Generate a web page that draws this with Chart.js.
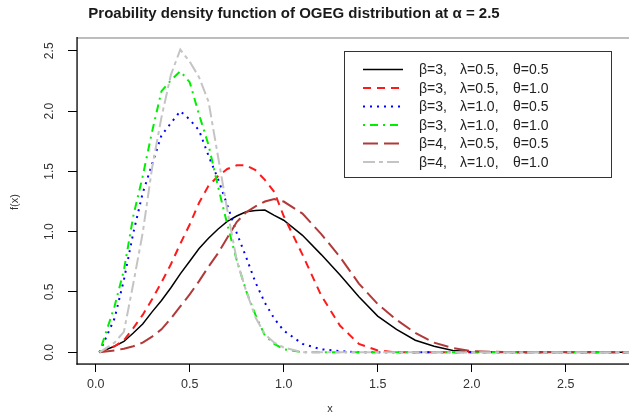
<!DOCTYPE html>
<html><head><meta charset="utf-8">
<script src="https://cdn.jsdelivr.net/npm/chart.js@4/dist/chart.umd.min.js"></script>
<style>html,body{margin:0;padding:0;background:#fff;}</style>
</head><body>
<canvas id="c" width="629" height="419"></canvas>
<script>
const titleText = "Proability density function of OGEG distribution at α = 2.5";
const xAxisLabel = "x";
const yAxisLabel = "f(x)";
const xTicks = [0, 0.5, 1, 1.5, 2, 2.5];
const xTickLabels = ["0.0", "0.5", "1.0", "1.5", "2.0", "2.5"];
const yTicks = [0, 0.5, 1, 1.5, 2, 2.5];
const yTickLabels = ["0.0", "0.5", "1.0", "1.5", "2.0", "2.5"];

const xs = [0.02,0.1,0.15,0.2,0.25,0.3,0.35,0.4,0.45,0.5,0.55,0.6,0.65,0.7,0.75,0.8,0.85,0.9,0.95,1.0,
            1.1,1.2,1.3,1.4,1.5,1.6,1.7,1.8,1.9,2.0,2.2,2.4,2.6,2.8,3.0];

const seriesLabels = [
  "β=3,   λ=0.5,   θ=0.5",
  "β=3,   λ=0.5,   θ=1.0",
  "β=3,   λ=1.0,   θ=0.5",
  "β=3,   λ=1.0,   θ=1.0",
  "β=4,   λ=0.5,   θ=0.5",
  "β=4,   λ=1.0,   θ=1.0"
];

const b3l05t05 = [0,0.05,0.09,0.16,0.235,0.335,0.43,0.535,0.65,0.755,0.86,0.945,1.02,1.085,1.13,1.165,1.175,1.18,1.135,1.095,
                  0.97,0.81,0.64,0.46,0.30,0.19,0.10,0.05,0.015,0.005,0,0,0,0,0];
const b3l05t10 = [0,0.05,0.10,0.20,0.31,0.44,0.58,0.73,0.90,1.06,1.24,1.38,1.46,1.52,1.55,1.55,1.51,1.43,1.33,1.13,
                  0.81,0.47,0.22,0.07,0.015,0,0,0,0,0,0,0,0,0,0];
const b3l10t05 = [0,0.28,0.60,0.99,1.32,1.56,1.80,1.90,2.00,1.93,1.84,1.63,1.44,1.22,0.99,0.79,0.58,0.41,0.28,0.18,
                  0.07,0.025,0.01,0,0,0,0,0,0,0,0,0,0,0,0];
const b3l10t10 = [0,0.38,0.68,1.13,1.46,1.83,2.165,2.255,2.33,2.24,1.97,1.72,1.38,1.06,0.765,0.51,0.31,0.14,0.07,0.025,
                  0,0,0,0,0,0,0,0,0,0,0,0,0,0,0];
const b4l05t05 = [0,0.015,0.03,0.05,0.08,0.13,0.19,0.28,0.38,0.48,0.59,0.71,0.82,0.95,1.08,1.16,1.21,1.25,1.27,1.25,
                  1.15,0.98,0.79,0.57,0.40,0.27,0.16,0.08,0.035,0.01,0,0,0,0,0];
const b4l10t10 = [0,0.08,0.17,0.57,0.99,1.53,1.95,2.30,2.51,2.41,2.28,2.08,1.63,1.18,0.765,0.51,0.29,0.15,0.08,0.04,
                  0,0,0,0,0,0,0,0,0,0,0,0,0,0,0];

const seriesValues = [b3l05t05, b3l05t10, b3l10t05, b3l10t10, b4l05t05, b4l10t10];
const seriesColors = ["#000000", "#ff1a1a", "#0000ff", "#00ee00", "#b03a3a", "#c4c4c4"];
const seriesDashes = [[], [8,6], [2,5], [2,5,8,5], [15,6], [12,4,4,4]];
const seriesWidths = [1.5, 2, 2, 2, 2, 2];

const FONT = "Arial, 'Liberation Sans', Helvetica, sans-serif";

const datasets = seriesValues.map((vals, i) => ({
  label: seriesLabels[i],
  data: xs.map((x, j) => ({x: x, y: vals[j]})),
  borderColor: seriesColors[i],
  backgroundColor: seriesColors[i],
  borderDash: seriesDashes[i],
  borderWidth: seriesWidths[i],
  pointRadius: 0,
  tension: 0,
  fill: false,
  order: seriesValues.length - i
}));

const decorPlugin = {
  id: 'decor',
  afterDraw(chart) {
    const ctx = chart.ctx, a = chart.chartArea;
    ctx.save();
    ctx.setLineDash([]);
    // plot frame: grey top, black left and bottom
    ctx.fillStyle = '#bdbdbd';
    ctx.fillRect(a.left, a.top - 1, a.right - a.left, 2);
    ctx.fillStyle = '#000';
    ctx.fillRect(a.left - 0.6, a.top - 1, 1.3, a.bottom - a.top + 1.6);
    ctx.fillRect(a.left - 0.6, a.bottom - 0.6, a.right - a.left + 1, 1.3);
    // title
    ctx.fillStyle = '#1a1a1a';
    ctx.font = "bold 15px " + FONT;
    ctx.textAlign = 'center';
    ctx.textBaseline = 'middle';
    ctx.fillText(titleText, 294, 14);
    // axis titles
    ctx.fillStyle = '#333';
    ctx.font = "11px " + FONT;
    ctx.fillText(xAxisLabel, 330, 409);
    ctx.save();
    ctx.translate(15, 202);
    ctx.rotate(-Math.PI / 2);
    ctx.fillText(yAxisLabel, 0, 0);
    ctx.restore();
    // legend
    const L = 344, T = 51, R = 611, B = 177;
    ctx.fillStyle = '#fff';
    ctx.fillRect(L, T, R - L, B - T);
    ctx.strokeStyle = '#333';
    ctx.lineWidth = 1;
    ctx.strokeRect(L + 0.5, T + 0.5, R - L, B - T);
    ctx.font = "14px " + FONT;
    ctx.textAlign = 'left';
    chart.data.datasets.forEach((ds, i) => {
      const y = 69.5 + i * 18.5;
      ctx.save();
      ctx.strokeStyle = ds.borderColor;
      ctx.lineWidth = ds.borderWidth;
      ctx.setLineDash(ds.borderDash);
      ctx.beginPath();
      ctx.moveTo(363, y);
      ctx.lineTo(403, y);
      ctx.stroke();
      ctx.restore();
      const parts = ds.label.split(/,\s+/);
      const cols = [419, 460, 513];
      ctx.fillStyle = '#222';
      parts.forEach((p, k) => {
        ctx.fillText(p + (k < parts.length - 1 ? ',' : ''), cols[k], y + 1);
      });
    });
    ctx.restore();
  }
};

new Chart(document.getElementById('c'), {
  type: 'line',
  data: { datasets },
  options: {
    responsive: false,
    animation: false,
    layout: { padding: { top: 38, left: 0, right: 0, bottom: 0 } },
    plugins: { legend: { display: false }, title: { display: false }, tooltip: { enabled: false } },
    scales: {
      x: {
        type: 'linear',
        min: -0.0995,
        max: 2.837,
        afterFit(s) { s.height = 55; },
        afterBuildTicks(s) { s.ticks = xTicks.map(v => ({ value: v })); },
        border: { display: false },
        grid: { display: true, drawOnChartArea: false, drawTicks: true, tickLength: 8, tickColor: '#000' },
        ticks: {
          autoSkip: false, maxRotation: 0, minRotation: 0, padding: 5,
          color: '#333', font: { family: FONT, size: 12.5 },
          callback: (v) => xTickLabels[xTicks.indexOf(v)]
        }
      },
      y: {
        type: 'linear',
        min: -0.097,
        max: 2.606,
        afterFit(s) { s.width = 77; },
        afterBuildTicks(s) { s.ticks = yTicks.map(v => ({ value: v })); },
        border: { display: false },
        grid: { display: true, drawOnChartArea: false, drawTicks: true, tickLength: 9, tickColor: '#000' },
        ticks: {
          autoSkip: false, minRotation: 90, maxRotation: 90, crossAlign: 'center', padding: 10,
          color: '#333', font: { family: FONT, size: 12 },
          callback: (v) => yTickLabels[yTicks.indexOf(v)]
        }
      }
    }
  },
  plugins: [decorPlugin]
});
</script>
</body></html>
